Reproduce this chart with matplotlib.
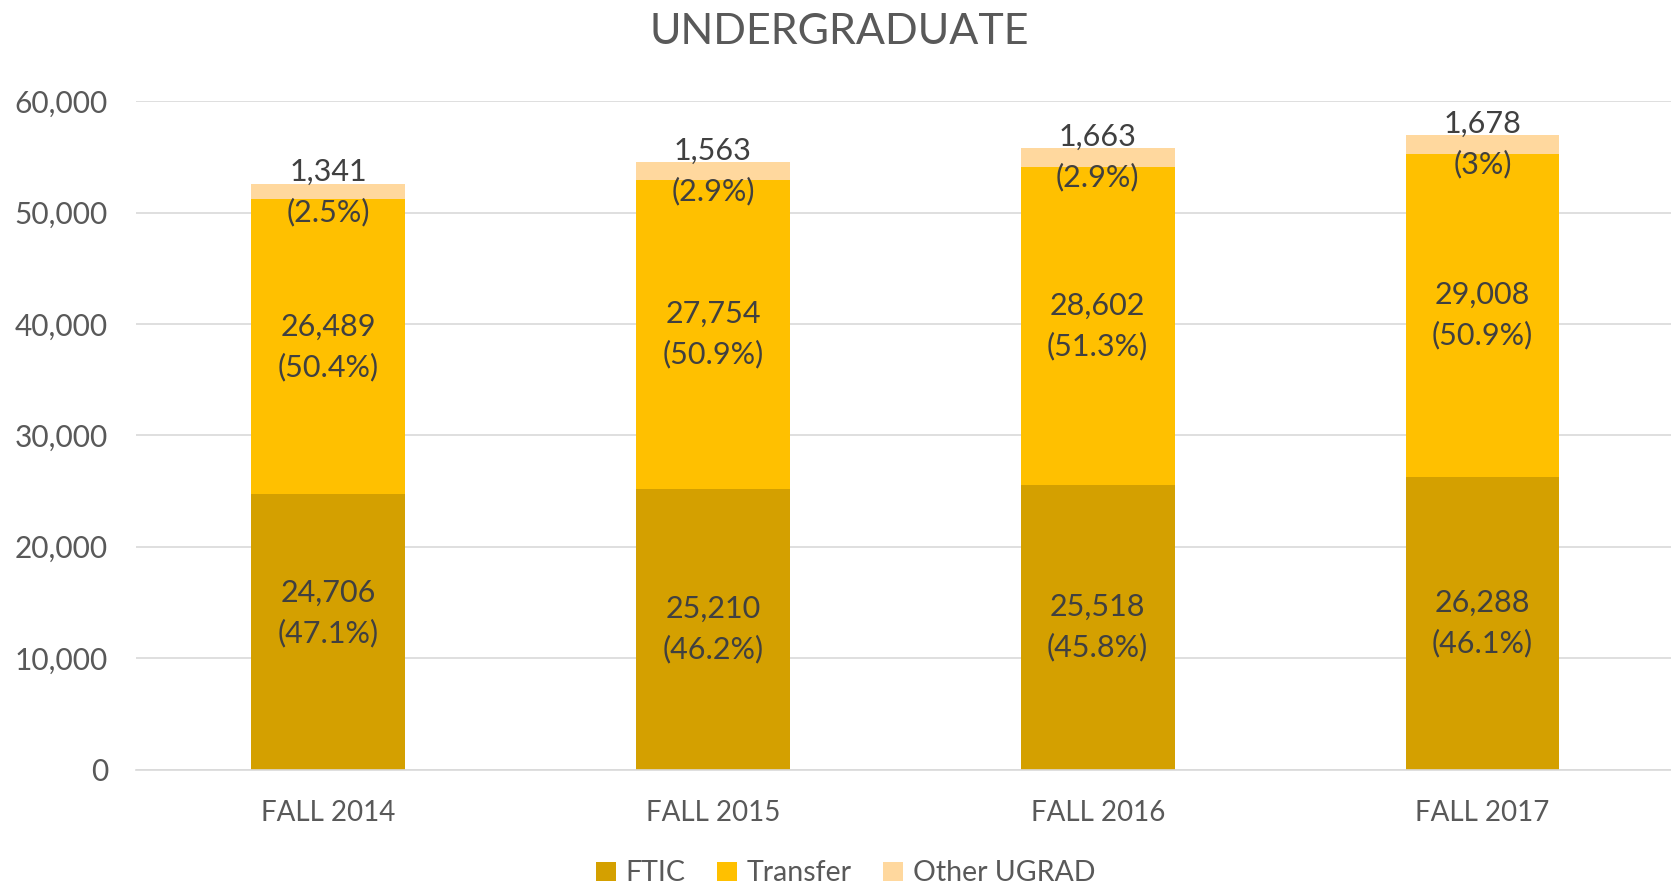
import matplotlib.pyplot as plt
import numpy as np

plt.rcParams['font.family'] = ['Lato', 'DejaVu Sans']

categories = ["FALL 2014", "FALL 2015", "FALL 2016", "FALL 2017"]
ftic = [24706, 25210, 25518, 26288]
transfer = [26489, 27754, 28602, 29008]
other = [1341, 1563, 1663, 1678]
ftic_pct = ["47.1%", "46.2%", "45.8%", "46.1%"]
transfer_pct = ["50.4%", "50.9%", "51.3%", "50.9%"]
other_pct = ["2.5%", "2.9%", "2.9%", "3%"]

colors = ["#D4A000", "#FFC000", "#FFD89E"]
text_c = "#404040"
tick_c = "#595959"

fig = plt.figure(figsize=(16.71, 8.85), dpi=100)
ax = fig.add_axes([0.0813, 0.1305, 0.921, 0.7551])

x = np.arange(len(categories))
w = 0.4
b1 = ax.bar(x, ftic, w, color=colors[0], label="FTIC", zorder=2)
b2 = ax.bar(x, transfer, w, bottom=ftic, color=colors[1], label="Transfer", zorder=2)
bottom2 = np.array(ftic) + np.array(transfer)
b3 = ax.bar(x, other, w, bottom=bottom2, color=colors[2], label="Other UGRAD", zorder=2)

fs = 22
ls = 1.5
for i in range(len(x)):
    # the first FTIC label sits a little higher in the original
    dy = 1700 if i == 0 else 0
    ax.text(x[i], ftic[i] / 2 + dy, f"{ftic[i]:,}\n({ftic_pct[i]})", ha="center", va="center",
            fontsize=fs, color=text_c, linespacing=ls, zorder=3)
    ax.text(x[i], ftic[i] + transfer[i] / 2, f"{transfer[i]:,}\n({transfer_pct[i]})",
            ha="center", va="center", fontsize=fs, color=text_c, linespacing=ls, zorder=3)
    ax.text(x[i], bottom2[i] + other[i] / 2, f"{other[i]:,}\n({other_pct[i]})",
            ha="center", va="center", fontsize=fs, color=text_c, linespacing=ls, zorder=3)

ax.set_xlim(-0.5, 3.5)
ax.set_ylim(0, 60000)
ax.set_yticks(np.arange(0, 60001, 10000))
ax.yaxis.set_major_formatter(plt.FuncFormatter(lambda v, p: f"{int(v):,}"))
ax.set_xticks(x)
ax.set_xticklabels(categories)
ax.tick_params(axis="both", length=0, colors=tick_c)
ax.tick_params(axis="x", pad=22, labelsize=20)
ax.tick_params(axis="y", pad=20, labelsize=21.5)
ax.grid(axis="y", color="#D9D9D9", linewidth=1.2, zorder=0)
for s in ["top", "right", "left"]:
    ax.spines[s].set_visible(False)
ax.spines["bottom"].set_color("#D9D9D9")
ax.spines["bottom"].set_linewidth(1.2)

fig.text(0.502, 0.964, "UNDERGRADUATE", ha="center", va="center", fontsize=31, color=tick_c)

fig.legend(handles=[b1, b2, b3], loc="center", bbox_to_anchor=(0.506, 0.013), ncol=3,
           frameon=False, fontsize=20.5, labelcolor=tick_c, handlelength=0.7,
           handleheight=0.7, handletextpad=0.35, columnspacing=1.1)

fig.savefig("out.png", dpi=100)
